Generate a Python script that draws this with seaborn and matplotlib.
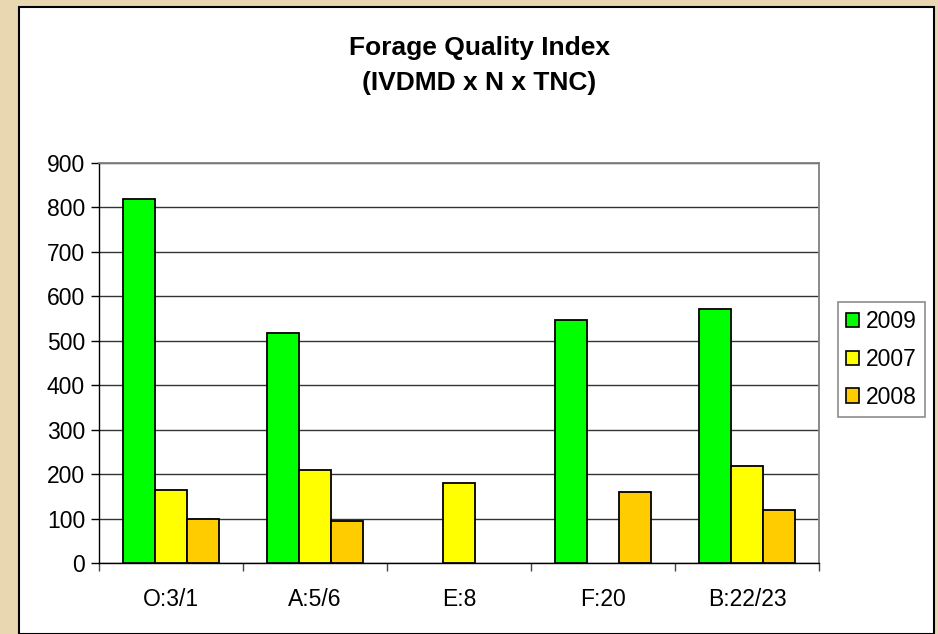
import pandas as pd
import numpy as np
import matplotlib
matplotlib.use('Agg')
import matplotlib.pyplot as plt
import seaborn as sns
from matplotlib.patches import Rectangle

# values
sites = ['O:3/1', 'A:5/6', 'E:8', 'F:20', 'B:22/23']
years = ['2009', '2007', '2008']
fqi_2009 = [818, 517, np.nan, 547, 571]
fqi_2007 = [164, 209, 180, np.nan, 218]
fqi_2008 = [98, 95, np.nan, 159, 119]
colors = ['#00FF00', '#FFFF00', '#FFCC00']

df = pd.DataFrame({
    'site': sites * 3,
    'year': [y for y in years for _ in sites],
    'fqi': fqi_2009 + fqi_2007 + fqi_2008,
})
df = df.dropna()

sns.set_style('white')
plt.rcParams['font.family'] = ['Liberation Sans', 'DejaVu Sans']
plt.rcParams['text.color'] = 'black'
plt.rcParams['xtick.color'] = 'black'
plt.rcParams['ytick.color'] = 'black'

fig = plt.figure(figsize=(9.38, 6.34), dpi=100)
fig.patch.set_facecolor('#E8D7B0')
# white chart area with black border
fig.patches.append(Rectangle((19 / 938, 0), 915 / 938, 1 - 7 / 634,
                             transform=fig.transFigure, facecolor='white',
                             edgecolor='black', linewidth=1.5, zorder=-5))

ax = fig.add_axes([99 / 938, 71 / 634, 720 / 938, 400 / 634])
ax.set_zorder(2)
ax.set_facecolor('white')
sns.barplot(data=df, x='site', y='fqi', hue='year', order=sites,
            hue_order=years, palette=colors, width=0.667,
            edgecolor='black', linewidth=1.3, saturation=1, ax=ax, zorder=3)

ax.set_ylim(0, 900)
ax.set_xlim(-0.5, 4.5)
ax.set_yticks(range(0, 901, 100))
ax.set_xlabel('')
ax.set_ylabel('')
ax.yaxis.grid(True, color='#333333', linewidth=1.0, zorder=0)
ax.set_axisbelow(True)

# x ticks sit between the categories
ax.set_xticks(np.arange(-0.5, 5, 1), minor=True)
ax.tick_params(axis='x', which='major', length=0, labelsize=16.5, pad=18)
ax.tick_params(axis='x', which='minor', length=6, width=1, color='#444444',
               direction='out', bottom=True)
ax.tick_params(axis='y', length=6, width=1, color='black', direction='out',
               left=True, labelsize=16.5, pad=4)

for side in ['left', 'bottom']:
    ax.spines[side].set_color('black')
    ax.spines[side].set_linewidth(1.0)
for side in ['top', 'right']:
    ax.spines[side].set_color('#808080')
    ax.spines[side].set_linewidth(1.3)

fig.text(479 / 938, 1 - 48 / 634, 'Forage Quality Index', ha='center',
         va='center', fontsize=19, fontweight='bold')
fig.text(479 / 938, 1 - 83 / 634, '(IVDMD x N x TNC)', ha='center',
         va='center', fontsize=19, fontweight='bold')

leg = ax.legend(loc='upper left', bbox_to_anchor=(838 / 938, 1 - 302 / 634),
                bbox_transform=fig.transFigure, frameon=True, fancybox=False,
                edgecolor='#707070', fontsize=16.5, handlelength=0.57,
                handleheight=0.57, handletextpad=0.3, borderpad=0.36,
                labelspacing=0.64, borderaxespad=0)
leg.get_frame().set_linewidth(1.2)
for h in leg.legend_handles:
    h.set_edgecolor('black')
    h.set_linewidth(1.2)

fig.savefig('out.png', dpi=100, facecolor=fig.get_facecolor())
